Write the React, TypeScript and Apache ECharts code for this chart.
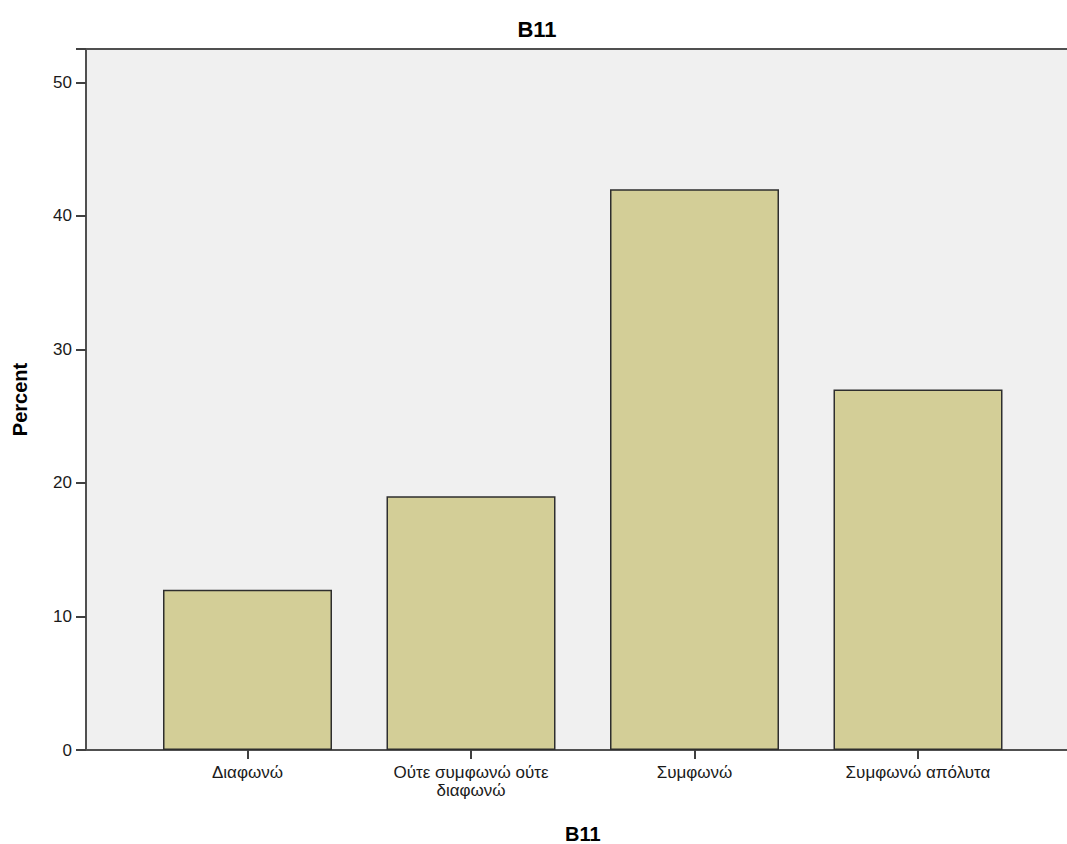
import React, { useEffect, useRef } from "react";
import * as echarts from "echarts";

const categories: string[] = ["Διαφωνώ", "Ούτε συμφωνώ ούτε\nδιαφωνώ", "Συμφωνώ", "Συμφωνώ απόλυτα"];
const percentValues: number[] = [12, 19, 42, 27];
const chartTitle = "B11";
const xAxisTitle = "B11";
const yAxisTitle = "Percent";

export default function App() {
  const ref = useRef<HTMLDivElement>(null);
  useEffect(() => {
    if (!ref.current) return;
    const chart = echarts.init(ref.current, undefined, { renderer: "svg" });
    const font = "Liberation Sans, Arial, sans-serif";
    chart.setOption({
      animation: false,
      backgroundColor: "#ffffff",
      textStyle: { fontFamily: font },
      graphic: [
        {
          type: "text",
          x: 537,
          y: 29,
          style: {
            text: chartTitle,
            fontFamily: font,
            fontSize: 22,
            fontWeight: "bold",
            fill: "#000",
            textAlign: "center",
            textVerticalAlign: "middle",
          },
        },
      ],
      grid: [
        {
          left: 86,
          top: 49,
          width: 1100,
          bottom: 94,
          show: true,
          backgroundColor: "#f0f0f0",
          borderColor: "#505050",
          borderWidth: 2,
          containLabel: false,
          outerBoundsMode: "none",
        },
        {
          left: 135.75,
          width: 894,
          top: 49,
          bottom: 94,
          containLabel: false,
          outerBoundsMode: "none",
        },
      ],
      xAxis: [
        { type: "value", gridIndex: 0, min: 0, max: 1, show: false },
        {
          type: "category",
          gridIndex: 1,
          data: categories,
          boundaryGap: true,
          axisLine: { show: false },
          axisTick: {
            show: true,
            alignWithLabel: true,
            length: 9,
            lineStyle: { color: "#404040", width: 2 },
          },
          axisLabel: {
            fontSize: 17,
            color: "#1a1a1a",
            margin: 13,
            lineHeight: 18,
            fontFamily: font,
          },
          name: xAxisTitle,
          nameLocation: "middle",
          nameGap: 74,
          nameTextStyle: { fontSize: 20, fontWeight: "bold", color: "#000", fontFamily: font },
        },
      ],
      yAxis: [
        {
          type: "value",
          gridIndex: 0,
          min: 0,
          max: 52.5,
          interval: 10,
          splitLine: { show: false },
          axisLine: { show: true, lineStyle: { color: "#505050", width: 2 } },
          axisTick: { show: true, length: 10, lineStyle: { color: "#404040", width: 2 } },
          axisLabel: {
            fontSize: 17,
            color: "#1a1a1a",
            margin: 14,
            fontFamily: font,
            formatter: (v: number) => (v % 10 === 0 ? String(v) : ""),
          },
          name: yAxisTitle,
          nameLocation: "middle",
          nameGap: 56,
          nameTextStyle: { fontSize: 20, fontWeight: "bold", color: "#000", fontFamily: font },
        },
        { type: "value", gridIndex: 1, min: 0, max: 52.5, show: false },
      ],
      series: [
        {
          type: "bar",
          xAxisIndex: 1,
          yAxisIndex: 1,
          data: percentValues,
          barWidth: 169,
          itemStyle: { color: "#d3ce97", borderColor: "#2e2e2e", borderWidth: 1.5 },
        },
      ],
    });
    return () => chart.dispose();
  }, []);
  return (
    <div
      ref={ref}
      style={{ position: "fixed", left: 0, top: 0, width: 1067, height: 844 }}
    />
  );
}
